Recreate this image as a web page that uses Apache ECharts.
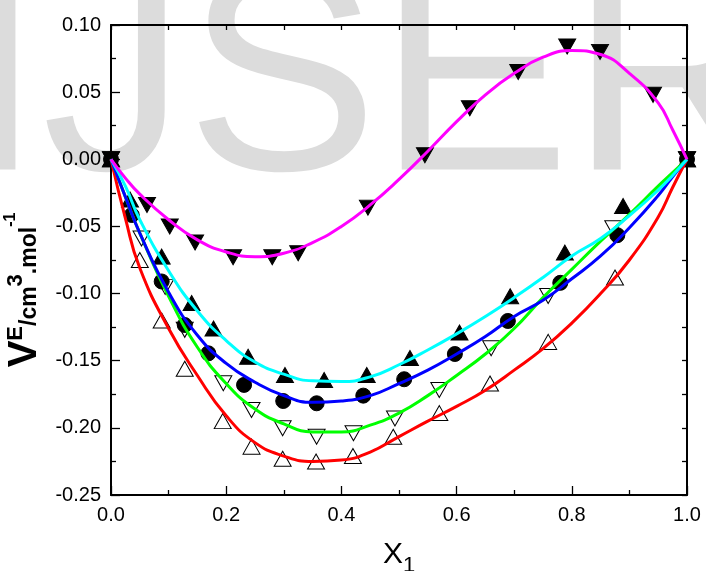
<!DOCTYPE html>
<html>
<head>
<meta charset="utf-8">
<script src="https://cdn.jsdelivr.net/npm/echarts@6/dist/echarts.min.js"></script>
<style>
  html, body { margin: 0; padding: 0; background: #fff; }
  #chart { width: 706px; height: 571px; }
</style>
</head>
<body>
<div id="chart"></div>
<script>
// fitted curves at these x positions
const curveX = [0, 0.025, 0.05, 0.1, 0.15, 0.2, 0.25, 0.3, 0.35, 0.4, 0.45, 0.5, 0.55, 0.6, 0.65, 0.7, 0.75, 0.8, 0.85, 0.9, 0.95, 0.975, 1];
const redCurve = [0, -0.044, -0.081, -0.126, -0.161, -0.191, -0.211, -0.221, -0.225, -0.224, -0.218, -0.2065, -0.195, -0.184, -0.172, -0.157, -0.141, -0.122, -0.100, -0.075, -0.043, -0.021, 0];
const greenCurve = [0, -0.028, -0.055, -0.102, -0.140, -0.167, -0.186, -0.197, -0.203, -0.203, -0.198, -0.189, -0.176, -0.161, -0.145, -0.126, -0.103, -0.082, -0.061, -0.041, -0.020, -0.010, 0];
const blueCurve = [0, -0.028, -0.055, -0.099, -0.131, -0.152, -0.166, -0.176, -0.181, -0.180, -0.176, -0.167, -0.157, -0.145, -0.132, -0.117, -0.105, -0.089, -0.072, -0.051, -0.027, -0.013, 0];
const cyanCurve = [0, -0.020, -0.045, -0.083, -0.113, -0.135, -0.151, -0.160, -0.165, -0.1655, -0.162, -0.153, -0.142, -0.130, -0.117, -0.103, -0.088, -0.072, -0.059, -0.042, -0.023, -0.012, 0];
const magentaCurve = [0, -0.014, -0.026, -0.045, -0.060, -0.069, -0.0725, -0.070, -0.062, -0.050, -0.034, -0.015, 0.006, 0.028, 0.048, 0.064, 0.076, 0.081, 0.078, 0.064, 0.042, 0.022, 0];

// measured points
const openUpX = [0, 0.05, 0.088, 0.128, 0.194, 0.244, 0.298, 0.356, 0.42, 0.49, 0.57, 0.658, 0.759, 0.875, 1];
const openUpY = [0, -0.075, -0.120, -0.156, -0.195, -0.214, -0.223, -0.225, -0.221, -0.2066, -0.189, -0.167, -0.136, -0.088, 0];
const openDownX = [0, 0.053, 0.094, 0.128, 0.195, 0.244, 0.298, 0.357, 0.421, 0.493, 0.57, 0.66, 0.759, 0.872, 1];
const openDownY = [0, -0.059, -0.095, -0.127, -0.1668, -0.1867, -0.2003, -0.2066, -0.204, -0.193, -0.1718, -0.1407, -0.1018, -0.0514, 0];
const circleX = [0, 0.036, 0.088, 0.128, 0.169, 0.231, 0.299, 0.357, 0.438, 0.509, 0.597, 0.689, 0.78, 0.879, 1];
const circleY = [0, -0.0415, -0.091, -0.1234, -0.1445, -0.168, -0.180, -0.1817, -0.176, -0.1638, -0.145, -0.1204, -0.092, -0.0565, 0];
const filledUpX = [0, 0.033, 0.088, 0.14, 0.178, 0.238, 0.302, 0.37, 0.444, 0.519, 0.605, 0.693, 0.788, 0.889, 1];
const filledUpY = [0, -0.030, -0.0725, -0.107, -0.126, -0.147, -0.1606, -0.1644, -0.1606, -0.148, -0.129, -0.102, -0.0695, -0.0348, 0];
const filledDownX = [0, 0.0625, 0.102, 0.146, 0.212, 0.28, 0.325, 0.446, 0.545, 0.623, 0.707, 0.792, 0.849, 0.941, 1];
const filledDownY = [0, -0.034, -0.050, -0.062, -0.073, -0.073, -0.070, -0.036, 0.003, 0.038, 0.065, 0.084, 0.080, 0.048, 0];

const zip = (xs, ys) => xs.map((x, i) => [x, ys[i]]);

const chart = echarts.init(document.getElementById('chart'));

function curve(ys, color) {
  return {
    type: 'line',
    data: zip(curveX, ys),
    smooth: 0.5,
    showSymbol: false,
    z: 5,
    lineStyle: { color: color, width: 3 },
    animation: false,
  };
}

function points(xs, ys, symbol, fill, size, rotate) {
  return {
    type: 'scatter',
    data: zip(xs, ys),
    symbol: symbol,
    symbolSize: size,
    symbolRotate: rotate || 0,
    z: 3,
    itemStyle: { color: fill, borderColor: '#000', borderWidth: 1, opacity: 1 },
    animation: false,
  };
}

const tickLabel = { color: '#000', fontSize: 20, fontFamily: 'Arial, Liberation Sans' };
const bold = { fontWeight: 'bold', fontFamily: 'Arial', color: '#000', verticalAlign: 'top' };

chart.setOption({
  backgroundColor: '#fff',
  graphic: [{
    type: 'text',
    z: -10,
    silent: true,
    style: {
      text: 'IJSER',
      x: -38,
      y: 90,
      fill: '#dcdcdc',
      font: '288px Arial, "Liberation Sans"',
      verticalAlign: 'middle',
    },
  }],
  grid: { left: 111, right: 19, top: 25, bottom: 76, outerBoundsMode: 'none' },
  xAxis: [{
    type: 'value',
    min: 0, max: 1, interval: 0.2,
    axisLine: { onZero: false, lineStyle: { color: '#000', width: 2 } },
    axisTick: { inside: true, length: 9, lineStyle: { color: '#000', width: 1.3 } },
    minorTick: { show: true, splitNumber: 2, length: 5, lineStyle: { color: '#000', width: 1.3 } },
    splitLine: { show: false },
    axisLabel: Object.assign({ margin: 10, formatter: v => v.toFixed(1) }, tickLabel),
    name: '{x|X}{s|1}',
    nameLocation: 'middle',
    nameGap: 45,
    nameTextStyle: {
      rich: {
        x: { fontSize: 30, fontFamily: 'Arial', color: '#000', verticalAlign: 'top' },
        s: { fontSize: 22, fontFamily: 'Arial', color: '#000', verticalAlign: 'top', padding: [15, 0, 0, 0] },
      },
    },
  }, {
    type: 'value',
    position: 'top',
    min: 0, max: 1, interval: 0.1,
    axisLine: { onZero: false, lineStyle: { color: '#000', width: 2 } },
    axisTick: { inside: true, length: 5, lineStyle: { color: '#000', width: 1.3 } },
    axisLabel: { show: false },
    splitLine: { show: false },
  }],
  yAxis: [{
    type: 'value',
    min: -0.25, max: 0.10, interval: 0.05,
    axisLine: { onZero: false, lineStyle: { color: '#000', width: 2 } },
    axisTick: { inside: true, length: 9, lineStyle: { color: '#000', width: 1.3 } },
    minorTick: { show: true, splitNumber: 2, length: 5, lineStyle: { color: '#000', width: 1.3 } },
    splitLine: { show: false },
    axisLabel: Object.assign({ margin: 10, formatter: v => v.toFixed(2) }, tickLabel),
    name: '{v|V}{sup|E}{m|/cm}{sup|3}{m|.mol}{sup2|-1}',
    nameLocation: 'middle',
    nameGap: 62,
    nameRotate: 90,
    nameTextStyle: {
      padding: [0, 60, 0, 0],
      rich: {
        v: Object.assign({ fontSize: 40, padding: [2, 0, 0, 0] }, bold),
        m: Object.assign({ fontSize: 23, padding: [16, 0, 0, 0] }, bold),
        sup: Object.assign({ fontSize: 22, padding: [2, 0, 0, 0] }, bold),
        sup2: Object.assign({ fontSize: 16, padding: [0, 0, 0, 0] }, bold),
      },
    },
  }, {
    type: 'value',
    position: 'right',
    min: -0.25, max: 0.10, interval: 0.025,
    axisLine: { onZero: false, lineStyle: { color: '#000', width: 2 } },
    axisTick: { inside: true, length: 5, lineStyle: { color: '#000', width: 1.3 } },
    axisLabel: { show: false },
    splitLine: { show: false },
  }],
  series: [
    points(openUpX, openUpY, 'triangle', 'rgba(0,0,0,0)', [17, 15]),
    points(openDownX, openDownY, 'triangle', 'rgba(0,0,0,0)', [17, 15], 180),
    points(circleX, circleY, 'circle', '#000', 15),
    points(filledUpX, filledUpY, 'triangle', '#000', [17, 15]),
    points(filledDownX, filledDownY, 'triangle', '#000', [17, 15], 180),
    curve(redCurve, '#ff0000'),
    curve(greenCurve, '#00ff00'),
    curve(blueCurve, '#0000ff'),
    curve(cyanCurve, '#00ffff'),
    curve(magentaCurve, '#ff00ff'),
  ],
});
</script>
</body>
</html>
